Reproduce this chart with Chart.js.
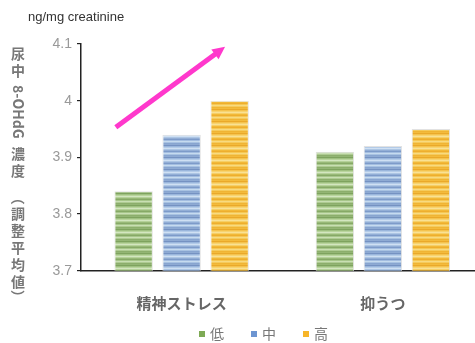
<!DOCTYPE html>
<html>
<head>
<meta charset="utf-8">
<script src="https://cdn.jsdelivr.net/npm/chart.js@4/dist/chart.umd.min.js"></script>
<style>
  html, body { margin: 0; padding: 0; background: #fff; overflow: hidden; }
  #wrap { width: 490px; height: 343px; }
</style>
</head>
<body>
<div id="wrap"><canvas id="chart" width="490" height="343"></canvas></div>
<script>
// data
const categories = ["精神ストレス", "抑うつ"]
const seriesNames = ["低", "中", "高"]
const lowValues = [3.84, 3.91]
const midValues = [3.94, 3.92]
const highValues = [4.00, 3.95]
const yTicks = [3.7, 3.8, 3.9, 4.0, 4.1]
const unitText = "ng/mg creatinine"
// arrow over the first group: [category, offset in category widths, value]
const arrowFrom = [0, -0.327, 3.953]
const arrowTo = [0, 0.216, 4.095]

const ctx = document.getElementById("chart").getContext("2d")

function stripes(colors) {
    const c = document.createElement("canvas")
    c.width = 4
    c.height = colors.length
    const g = c.getContext("2d")
    colors.forEach((col, i) => { g.fillStyle = col; g.fillRect(0, i, 4, 1) })
    return ctx.createPattern(c, "repeat")
}

const greenFill = stripes(['#93b574','#7ea35e','#9fc081','#b8d49c','#d3e6c0','#b5d199','#98b978','#86a966','#a7c68a','#c9dfb3','#aecb92','#8cae6c'])
const blueFill = stripes(['#8eaad3','#7592c2','#9ab6dc','#b3cbe8','#cfe0f3','#adc6e4','#93aed6','#7d9bc9','#a3bde0','#c6dbef','#a8c2e2','#88a5d0'])
const orangeFill = stripes(['#f3bb3c','#eaa92a','#f5c34e','#f7d36f','#f9e193','#f6cf66','#f2b938','#eeae2e','#f5c854','#f8da80','#f5cb5c','#f0b434'])
const legendColors = ['#7eaa55', '#6d95d1', '#f7b529']

// vertical axis title: [text, rotated]
const yTitle = [["尿中", false], [" ", false], ["8-OHdG", true], [" ", false], ["濃度", false], ["  ", false], ["（", true], ["調整平均値", false], ["）", true]]

const extras = {
    id: "extras",
    afterDraw(chart) {
        const g = chart.ctx
        const x = chart.scales.x, y = chart.scales.y
        g.save()

        // unit label
        g.fillStyle = "#333"
        g.font = "13px 'Liberation Sans', Arial"
        g.textAlign = "left"
        g.textBaseline = "middle"
        g.fillText(unitText, 28, 17)

        // vertical title
        g.font = "bold 14px 'Noto Sans CJK JP'"
        g.fillStyle = "#777"
        g.textAlign = "center"
        let ty = 45
        yTitle.forEach(([txt, rot]) => {
            if (txt.trim() === "") { ty += 6 * txt.length; return }
            if (rot) {
                const w = g.measureText(txt).width
                g.save()
                g.translate(18, ty + w / 2)
                g.rotate(Math.PI / 2)
                g.fillText(txt, 0, 0)
                g.restore()
                ty += w
            } else {
                for (const ch of txt) {
                    g.fillText(ch, 18, ty + 8.5)
                    ty += 17
                }
            }
        })

        // arrow
        const catW = x.width / categories.length
        const x1 = x.getPixelForValue(arrowFrom[0]) + arrowFrom[1] * catW
        const y1 = y.getPixelForValue(arrowFrom[2])
        const x2 = x.getPixelForValue(arrowTo[0]) + arrowTo[1] * catW
        const y2 = y.getPixelForValue(arrowTo[2])
        const ang = Math.atan2(y2 - y1, x2 - x1)
        const head = 14
        g.strokeStyle = "#ff38cc"
        g.fillStyle = "#ff38cc"
        g.lineWidth = 5
        g.beginPath()
        g.moveTo(x1, y1)
        g.lineTo(x2 - Math.cos(ang) * head * 0.8, y2 - Math.sin(ang) * head * 0.8)
        g.stroke()
        g.beginPath()
        g.moveTo(x2, y2)
        g.lineTo(x2 - head * Math.cos(ang - 0.45), y2 - head * Math.sin(ang - 0.45))
        g.lineTo(x2 - head * Math.cos(ang + 0.45), y2 - head * Math.sin(ang + 0.45))
        g.closePath()
        g.fill()

        // legend
        g.font = "14px 'Noto Sans CJK JP'"
        g.textAlign = "left"
        seriesNames.forEach((name, i) => {
            const lx = 199 + i * 52
            g.fillStyle = legendColors[i]
            g.fillRect(lx, 331, 6, 6)
            g.fillStyle = "#777"
            g.fillText(name, lx + 11, 334)
        })
        g.restore()
    }
}

new Chart(ctx, {
    type: "bar",
    data: {
        labels: categories,
        datasets: [
            { label: seriesNames[0], data: lowValues, backgroundColor: greenFill },
            { label: seriesNames[1], data: midValues, backgroundColor: blueFill },
            { label: seriesNames[2], data: highValues, backgroundColor: orangeFill },
        ].map(d => Object.assign(d, {
            borderColor: "#e2e2e2",
            borderWidth: 1,
            borderSkipped: "bottom",
            categoryPercentage: 0.7155,
            barPercentage: 0.8,
        }))
    },
    options: {
        responsive: false,
        animation: false,
        layout: { padding: { left: 40, right: 6.5, top: 44, bottom: 0 } },
        plugins: { legend: { display: false }, tooltip: { enabled: false } },
        scales: {
            x: {
                grid: { display: false },
                border: { display: true, color: "#222", width: 1.5 },
                ticks: {
                    padding: 16,
                    color: "#666",
                    font: { family: "'Noto Sans CJK JP'", size: 15, weight: "bold" },
                },
                afterFit(scale) { scale.height = 72.3 },
            },
            y: {
                min: yTicks[0],
                max: yTicks[yTicks.length - 1],
                afterBuildTicks(scale) { scale.ticks = yTicks.map(v => ({ value: v })) },
                grid: { drawOnChartArea: false, drawTicks: true, tickLength: 4, color: "#222", lineWidth: 1.2 },
                border: { display: true, color: "#222", width: 1.5 },
                ticks: {
                    padding: 5,
                    color: "#999",
                    font: { family: "'Liberation Sans Narrow', 'Liberation Sans', Arial", size: 14 },
                    callback: v => String(Math.round(v * 10) / 10),
                },
                afterFit(scale) { scale.width = 41 },
            },
        },
    },
    plugins: [extras],
})
</script>
</body>
</html>
